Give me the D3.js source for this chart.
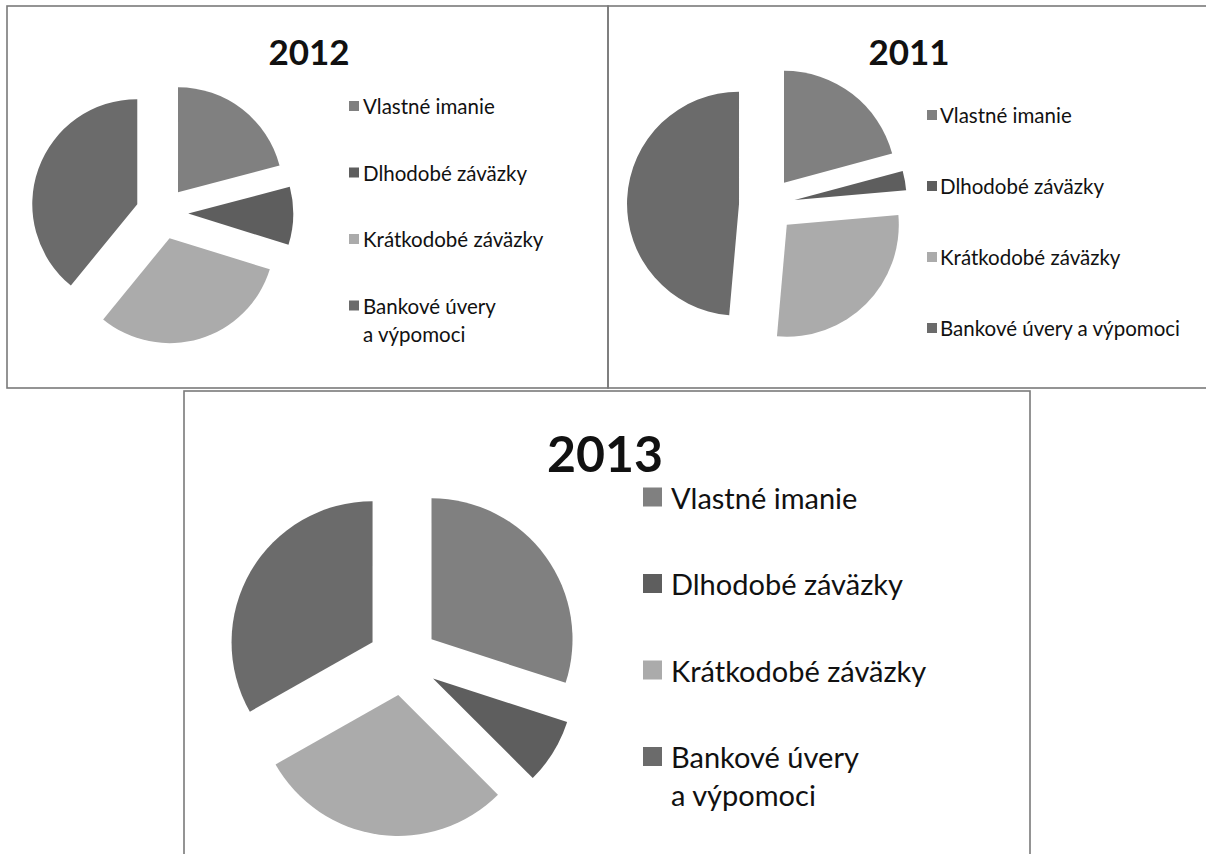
<!DOCTYPE html>
<html>
<head>
<meta charset="utf-8">
<script src="https://cdn.jsdelivr.net/npm/d3@7"></script>
<style>
  body { margin: 0; background: #fff; }
  svg { display: block; }
  text { font-family: Lato, "Open Sans", sans-serif; fill: #111; }
</style>
</head>
<body>
<div id="chart"></div>
<script>
const categories = ["Vlastné imanie", "Dlhodobé záväzky", "Krátkodobé záväzky", "Bankové úvery a výpomoci"];
const years = ["2012", "2011", "2013"];
const values_2012 = [20.9, 8.9, 31.1, 39.1];
const values_2011 = [20.8, 2.8, 27.8, 48.6];
const values_2013 = [30.0, 7.5, 29.3, 33.2];
const slice_colors = ["#808080", "#5e5e5e", "#ababab", "#6b6b6b"];

const width = 1206;
const height = 854;

const svg = d3.select("#chart")
    .append("svg")
    .attr("width", width)
    .attr("height", height);

// frames round the three charts
const frames = [
    { x: 7, y: 6, w: 601, h: 382 },
    { x: 608, y: 6, w: 610, h: 382 },
    { x: 184, y: 391, w: 846, h: 480 }
];
svg.selectAll("rect.frame")
    .data(frames)
    .enter()
    .append("rect")
    .attr("class", "frame")
    .attr("x", d => d.x)
    .attr("y", d => d.y)
    .attr("width", d => d.w)
    .attr("height", d => d.h)
    .attr("fill", "none")
    .attr("stroke", "#7a7a7a")
    .attr("stroke-width", 1.6);

const panels = [
    { year: years[0], values: values_2012, cx: 162, cy: 213, r: 105,
      titleX: 309, titleY: 65, titleSize: 35,
      sqX: 349, sq: 10, textX: 363, legendY: 106, step: 66.5, lineGap: 28, fontSize: 20.5, wrap: true },
    { year: years[1], values: values_2011, cx: 767, cy: 205, r: 112,
      titleX: 909, titleY: 65, titleSize: 35,
      sqX: 927, sq: 10, textX: 940, legendY: 115, step: 71, lineGap: 0, fontSize: 20.5, wrap: false },
    { year: years[2], values: values_2013, cx: 403, cy: 660, r: 141,
      titleX: 605, titleY: 472, titleSize: 50,
      sqX: 643, sq: 19, textX: 671, legendY: 497, step: 86.5, lineGap: 38, fontSize: 29, wrap: true }
];

const pie = d3.pie().sort(null).value(d => d);

panels.forEach(p => {
    const g = svg.append("g");
    const arc = d3.arc().innerRadius(0).outerRadius(p.r);
    const explode = p.r * 0.25;

    g.selectAll("path")
        .data(pie(p.values))
        .enter()
        .append("path")
        .attr("d", arc)
        .attr("fill", (d, i) => slice_colors[i])
        .attr("transform", d => {
            const mid = (d.startAngle + d.endAngle) / 2;
            const x = p.cx + Math.sin(mid) * explode;
            const y = p.cy - Math.cos(mid) * explode;
            return "translate(" + x + "," + y + ")";
        });

    g.append("text")
        .attr("x", p.titleX)
        .attr("y", p.titleY)
        .attr("text-anchor", "middle")
        .attr("font-weight", "bold")
        .attr("font-size", p.titleSize)
        .text(p.year);

    categories.forEach((c, i) => {
        const y = p.legendY + i * p.step;
        g.append("rect")
            .attr("x", p.sqX)
            .attr("y", y - p.sq / 2)
            .attr("width", p.sq)
            .attr("height", p.sq)
            .attr("fill", slice_colors[i]);

        let lines = [c];
        if (p.wrap && c.indexOf(" a ") > 0) {
            const cut = c.indexOf(" a ");
            lines = [c.slice(0, cut), c.slice(cut + 1)];
        }
        lines.forEach((line, j) => {
            g.append("text")
                .attr("x", p.textX)
                .attr("y", y + j * p.lineGap)
                .attr("dominant-baseline", "central")
                .attr("font-size", p.fontSize)
                .text(line);
        });
    });
});
</script>
</body>
</html>
